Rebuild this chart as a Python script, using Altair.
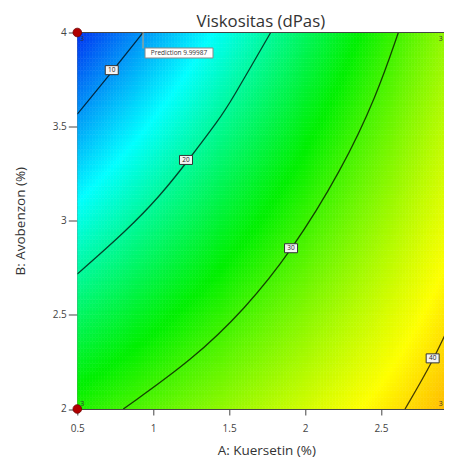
import altair as alt
import numpy as np
import pandas as pd

# ---------------- data ----------------
chart_title = "Viskositas (dPas)"
x_title = "A: Kuersetin (%)"
y_title = "B: Avobenzon (%)"
x_ticks = [0.5, 1, 1.5, 2, 2.5, 3]
y_ticks = [2, 2.5, 3, 3.5, 4]
x_range = [0.5, 3.0]
y_range = [2.0, 4.0]

# contour traces (A, B)
contour_levels = [10, 20, 30, 40]
contour10_A = [0.5, 0.727, 0.933]
contour10_B = [3.566, 3.79, 4.0]
contour20_A = [0.5, 0.825, 1.045, 1.216, 1.44, 1.506, 1.774]
contour20_B = [2.717, 2.948, 3.132, 3.305, 3.545, 3.626, 4.0]
contour30_A = [0.803, 1.264, 1.605, 1.908, 2.242, 2.472, 2.615]
contour30_B = [2.0, 2.265, 2.532, 2.835, 3.27, 3.665, 4.0]
contour40_A = [2.659, 2.841, 2.966, 3.0]
contour40_B = [2.0, 2.25, 2.473, 2.51]

# contour label boxes
label_A = [0.727, 1.216, 1.908, 2.841]
label_B = [3.80, 3.323, 2.854, 2.269]
label_text = ["10", "20", "30", "40"]

# design points (replicates)
design_A = [0.5, 0.5, 3.0, 3.0]
design_B = [4.0, 2.0, 4.0, 2.0]
design_reps = ["3", "3", "3", "3"]

# prediction flag
prediction_A = [0.933]
prediction_B = [4.0]
prediction_text = ["Prediction 9.99987"]

# colour stops of the response scale (blue -> cyan -> green -> yellow -> red)
color_stops = [4, 15.5, 27, 38.5, 50]
color_range = ["#0020f0", "#00ffff", "#00f000", "#ffff00", "#ff0000"]

# ---------------- surface fitted to the contour traces ----------------
traces = [(contour10_A, contour10_B), (contour20_A, contour20_B),
          (contour30_A, contour30_B), (contour40_A, contour40_B)]
rows = []
for lvl, (aa, bb) in zip(contour_levels, traces):
    for a, b in zip(aa, bb):
        rows.append((lvl, a, b))
obs = np.array(rows)
M = np.column_stack([np.ones(len(obs)), obs[:, 1], obs[:, 2], obs[:, 1] * obs[:, 2]])
coef, *_ = np.linalg.lstsq(M, obs[:, 0], rcond=None)

a_edges = np.linspace(x_range[0], x_range[1], 126)
b_edges = np.linspace(y_range[0], y_range[1], 101)
cells = []
for i in range(len(a_edges) - 1):
    for j in range(len(b_edges) - 1):
        ac = 0.5 * (a_edges[i] + a_edges[i + 1])
        bc = 0.5 * (b_edges[j] + b_edges[j + 1])
        v = coef[0] + coef[1] * ac + coef[2] * bc + coef[3] * ac * bc
        cells.append((a_edges[i], a_edges[i + 1], b_edges[j], b_edges[j + 1], v))
grid = pd.DataFrame(cells, columns=["a0", "a1", "b0", "b1", "v"])

lines = pd.concat([
    pd.DataFrame({"A": aa, "B": bb, "level": lvl, "k": range(len(aa))})
    for lvl, (aa, bb) in zip(contour_levels, traces)
])
labels = pd.DataFrame({"A": label_A, "B": label_B, "t": label_text})
design = pd.DataFrame({"A": design_A, "B": design_B, "r": design_reps})
pred = pd.DataFrame({"A": prediction_A, "B": prediction_B, "t": prediction_text})

# ---------------- chart ----------------
FONT = "Open Sans"
W, H = 367, 376.5
x_vis_max = 0.5 + W / 151.8

xs = alt.Scale(domain=[x_range[0], x_vis_max], nice=False, zero=False)
ys = alt.Scale(domain=y_range, nice=False, zero=False)
cs = alt.Scale(domain=color_stops, range=color_range, interpolate="rgb")

x_axis = alt.Axis(values=x_ticks, format="~g", title=x_title, grid=False,
                  tickSize=6, labelPadding=9, labelFontSize=10, labelColor="#444",
                  labelFont=FONT, domainColor="#444", tickColor="#444",
                  titleFont=FONT, titleFontSize=13.5, titleFontWeight="normal",
                  titleColor="#333", titleY=46, titleX=189, titleBaseline="alphabetic",
                  titleAnchor="middle", titleAlign="center", labelFlush=False)
y_axis = alt.Axis(values=y_ticks, format="~g", title=y_title, grid=False,
                  tickSize=9, labelPadding=2, labelFontSize=10, labelColor="#444",
                  labelFont=FONT, domainColor="#444", tickColor="#444",
                  titleFont=FONT, titleFontSize=13.5, titleFontWeight="normal",
                  titleColor="#333", titleAngle=-90, titleX=-57, titleY=H / 2,
                  titleBaseline="middle", titleAlign="center", labelFlush=False)

heat = alt.Chart(grid).mark_rect(strokeWidth=0.6, clip=True).encode(
    x=alt.X("a0:Q", scale=xs, axis=x_axis),
    x2="a1:Q",
    y=alt.Y("b0:Q", scale=ys, axis=y_axis),
    y2="b1:Q",
    color=alt.Color("v:Q", scale=cs, legend=None),
    stroke=alt.Stroke("v:Q", scale=cs, legend=None),
)

top_rule = alt.Chart(pred).mark_rule(color="#444", strokeWidth=1).encode(
    y=alt.datum(y_range[1], scale=ys)
)

contours = alt.Chart(lines).mark_line(
    color="#000000", strokeWidth=1.3, opacity=0.72, interpolate="basis", clip=True
).encode(
    x=alt.X("A:Q", scale=xs), y=alt.Y("B:Q", scale=ys),
    detail="level:N", order="k:Q"
)

lab_box = alt.Chart(labels).mark_rect(
    width=13, height=9, fill="#f4f4f4", stroke="#333", strokeWidth=1
).encode(x=alt.X("A:Q", scale=xs), y=alt.Y("B:Q", scale=ys))
lab_txt = alt.Chart(labels).mark_text(
    font=FONT, fontSize=6.5, color="#222", align="center", baseline="middle"
).encode(x=alt.X("A:Q", scale=xs), y=alt.Y("B:Q", scale=ys), text="t:N")

flag_line = alt.Chart(pred).mark_rule(color="#c8a878", strokeWidth=1, y2Offset=16).encode(
    x=alt.X("A:Q", scale=xs), y=alt.Y("B:Q", scale=ys), y2="B:Q"
)
flag_box = alt.Chart(pred).mark_rect(
    width=68, height=10, xOffset=36, yOffset=20.5, fill="white", stroke="#888", strokeWidth=1
).encode(x=alt.X("A:Q", scale=xs), y=alt.Y("B:Q", scale=ys))
flag_txt = alt.Chart(pred).mark_text(
    font=FONT, fontSize=6.5, color="#333", align="center", baseline="middle", dx=36, dy=20.5
).encode(x=alt.X("A:Q", scale=xs), y=alt.Y("B:Q", scale=ys), text="t:N")

pts = alt.Chart(design).mark_circle(size=75, color="#b00000", opacity=1,
                                    stroke="#700000", strokeWidth=0.8).encode(
    x=alt.X("A:Q", scale=xs), y=alt.Y("B:Q", scale=ys)
)

rep_layers = []
for idx in range(len(design_A)):
    left = design_A[idx] == x_range[0]
    top = design_B[idx] == y_range[1]
    sub = design.iloc[[idx]]
    rep_layers.append(
        alt.Chart(sub).mark_text(
            font=FONT, fontSize=7, color="#333", align="center", baseline="middle",
            dx=5 if left else -16, dy=6 if top else -5
        ).encode(x=alt.X("A:Q", scale=xs), y=alt.Y("B:Q", scale=ys), text="r:N")
    )

chart = alt.layer(
    heat, contours, top_rule, lab_box, lab_txt, flag_line, flag_box, flag_txt, pts, *rep_layers
).properties(
    width=W, height=H,
    title=alt.TitleParams(chart_title, font=FONT, fontSize=16.8, fontWeight="normal",
                          color="#333", frame="group", anchor="middle",
                          baseline="alphabetic", offset=0, dy=17),
    padding={"left": 69.3, "top": 24.5, "right": 0, "bottom": 49},
    autosize="none",
).configure_view(stroke=None)

chart.save("out.html", embed_options={"renderer": "svg", "actions": False})
